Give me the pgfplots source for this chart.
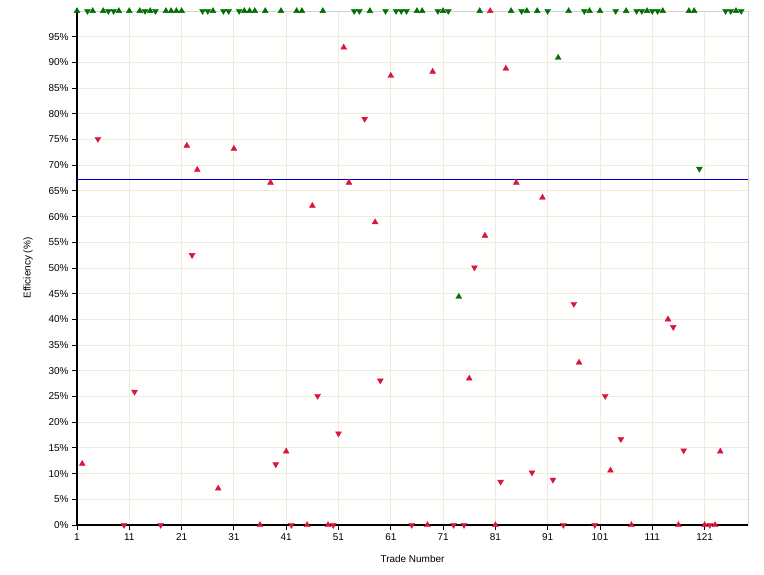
\documentclass[border=0pt]{standalone}
\usepackage{pgfplots}
\pgfplotsset{compat=1.18}
\usepackage{fontspec}
\setmainfont{Liberation Sans}
\definecolor{gridc}{RGB}{238,236,218}
\definecolor{redm}{RGB}{220,20,60}
\definecolor{greenm}{RGB}{0,110,0}
\definecolor{meanc}{RGB}{0,0,200}
\definecolor{borderc}{RGB}{210,210,210}
\begin{document}
\begin{tikzpicture}
\begin{axis}[
  scale only axis,
  width=671bp, height=514bp,
  xmin=1, xmax=129.3, ymin=0, ymax=100,
  axis x line*=bottom, axis y line*=left,
  axis line style={black, line width=1.2bp},
  xtick={1,11,...,121},
  ytick={0,5,...,95},
  yticklabel={\pgfmathprintnumber{\tick}\%},
  grid=major,
  major grid style={gridc, line width=0.8bp},
  tick align=outside,
  major tick length=5bp,
  tick style={black, line width=0.8bp},
  /pgf/number format/assume math mode=true,
  tick label style={font=\fontsize{10}{12}\selectfont},
  label style={font=\fontsize{10}{12}\selectfont},
  xlabel={Trade Number},
  ylabel={Efficiency (\%)},
  xlabel style={at={(axis description cs:0.5,-0.066)}, anchor=center},
  ylabel style={at={(axis description cs:-0.073,0.5)}, anchor=center},
  clip=false,
  every axis plot/.append style={only marks, mark size=3.4bp},
]
\draw[borderc, line width=0.8bp] (rel axis cs:0,1) -- (rel axis cs:1,1) -- (rel axis cs:1,0);
\addplot[meanc, line width=0.8bp, no marks, sharp plot] coordinates {(1,67.3) (129.3,67.3)};
% green up
\addplot[mark=triangle*, color=greenm] table {
x y
1 100
4 100
6 100
9 100
11 100
13 100
15 100
18 100
19 100
20 100
21 100
27 100
33 100
34 100
35 100
37 100
40 100
43 100
44 100
48 100
57 100
66 100
67 100
71 100
74 44.4
78 100
84 100
87 100
89 100
93 90.9
95 100
99 100
101 100
106 100
110 100
113 100
118 100
119 100
127 100
};
% green down
\addplot[mark=triangle*, color=greenm, mark options={rotate=180}] table {
x y
3 100
7 100
8 100
14 100
16 100
25 100
26 100
29 100
30 100
32 100
54 100
55 100
60 100
62 100
63 100
64 100
70 100
72 100
86 100
91 100
98 100
104 100
108 100
109 100
111 100
112 100
120 69.3
125 100
126 100
128 100
};
% red up
\addplot[mark=triangle*, color=redm] table {
x y
2 11.9
22 73.8
24 69.1
28 7.1
31 73.2
36 0
38 66.6
41 14.3
45 0
46 62.1
49 0
52 92.9
53 66.6
58 58.9
61 87.4
68 0
69 88.2
76 28.5
79 56.3
80 100
81 0
83 88.8
85 66.6
90 63.7
97 31.6
103 10.6
107 0
114 40.0
116 0
121 0
123 0
124 14.3
};
% red down
\addplot[mark=triangle*, color=redm, mark options={rotate=180}] table {
x y
5 75.1
10 0
12 25.9
17 0
23 52.5
39 11.8
42 0
47 25.1
50 0
51 17.8
56 79.0
59 28.1
65 0
73 0
75 0
77 50.1
82 8.4
88 10.2
92 8.8
94 0
96 43.0
100 0
102 25.1
105 16.7
115 38.5
117 14.5
122 0
};
\end{axis}
\useasboundingbox (current axis.south west) ++(-77bp,-50bp) rectangle ([xshift=16bp,yshift=11bp]current axis.north east);
\end{tikzpicture}
\end{document}
